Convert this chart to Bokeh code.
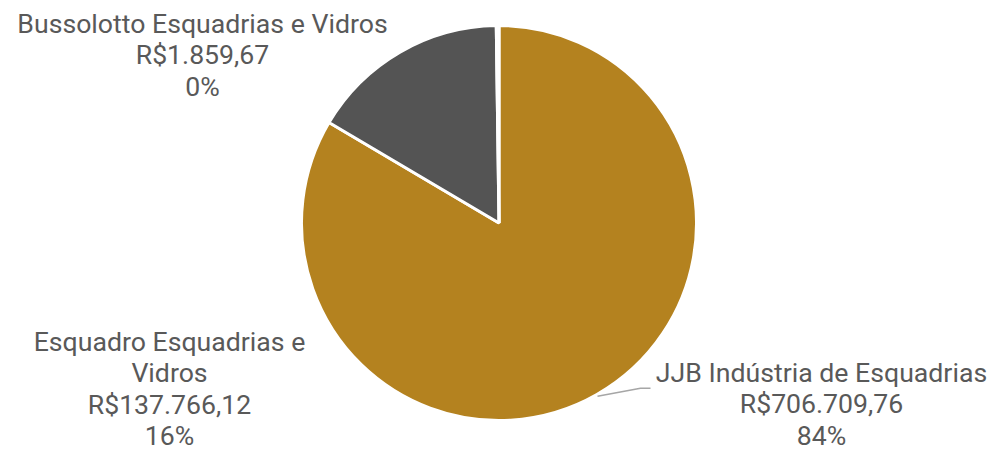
import numpy as np
from bokeh.plotting import figure
from bokeh.models import ColumnDataSource
from bokeh.core.properties import value
from bokeh.embed import file_html
from bokeh.resources import INLINE

# ---- data ----
categories = ["JJB Indústria de Esquadrias", "Esquadro Esquadrias e Vidros", "Bussolotto Esquadrias e Vidros"]
amounts = [706709.76, 137766.12, 1859.67]
amount_labels = ["R$706.709,76", "R$137.766,12", "R$1.859,67"]
pct_labels = ["84%", "16%", "0%"]
colors = ["#B4821F", "#545454", "#FFFFFF"]

vals = np.array(amounts)
frac = vals / vals.sum()
ends = np.pi / 2 - 2 * np.pi * np.cumsum(frac)
starts = np.concatenate([[np.pi / 2], ends[:-1]])

W, H = 989, 451
# data units = reference pixels (y measured upward from the reference bottom)
p = figure(width=W, height=H, x_range=(0, 989), y_range=(16, 467),
           output_backend="svg", toolbar_location=None, min_border=0)
p.axis.visible = False
p.grid.visible = False
p.outline_line_color = None
p.background_fill_color = "white"
p.border_fill_color = "white"

cx, cy, r = 498.5, 467 - 222.5, 197.5
src = ColumnDataSource(dict(start=starts, end=ends, color=colors, name=categories))
p.wedge(x=cx, y=cy, radius=r, start_angle="start", end_angle="end",
        direction="clock", fill_color="color", line_color="white", line_width=3,
        source=src)

# leader line for JJB
p.line(x=[597, 640, 650], y=[467 - 395.7, 467 - 387.7, 467 - 387.7],
       line_color="#A6A6A6", line_width=1.5)

font = value("Roboto")
def label(lines, x, baselines):
    p.text(x=[x] * len(lines), y=[467 - b for b in baselines], text=lines,
           text_font=font, text_font_size="26.67px", text_color="#595959",
           text_align="center", text_baseline="alphabetic")

label(["Bussolotto Esquadrias e Vidros", amount_labels[2], pct_labels[2]], 202, [23, 54.5, 86])
label(["JJB Indústria de Esquadrias", amount_labels[0], pct_labels[0]], 821, [372.5, 403.7, 435])
label(["Esquadro Esquadrias e", "Vidros", amount_labels[1], pct_labels[1]], 169, [341, 372.5, 404, 435])

open("out.html", "w").write(file_html(p, INLINE))
